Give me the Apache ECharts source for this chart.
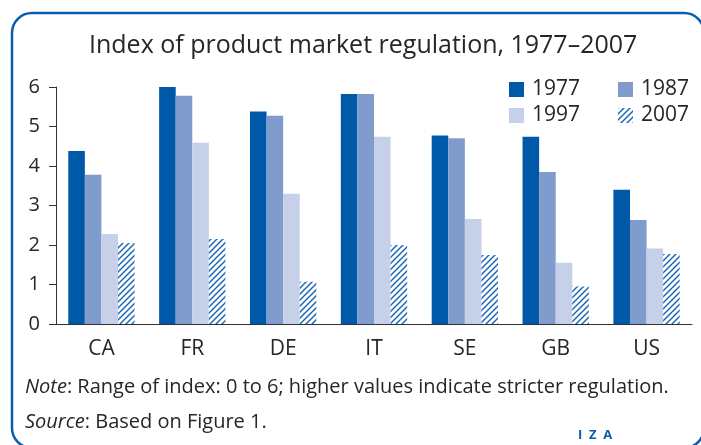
<!DOCTYPE html>
<html><head><meta charset="utf-8">
<script src="https://cdn.jsdelivr.net/npm/echarts@6/dist/echarts.min.js"></script>
<style>html,body{margin:0;padding:0;background:#fff}#c{width:701px;height:445px}</style>
</head><body><div id="c"></div>
<script>
var categories = ['CA','FR','DE','IT','SE','GB','US'];
var v1977 = [4.38, 6.0, 5.38, 5.82, 4.77, 4.74, 3.4];
var v1987 = [3.78, 5.78, 5.27, 5.82, 4.7, 3.85, 2.63];
var v1997 = [2.28, 4.59, 3.3, 4.74, 2.66, 1.55, 1.91];
var v2007 = [2.05, 2.15, 1.07, 2.0, 1.75, 0.95, 1.77];
var yTicks = [0,1,2,3,4,5,6];

var FONT = '"Open Sans", "Liberation Sans", Arial, sans-serif';
var TXT = '#262626';

// hatch pattern
var pc = document.createElement('canvas');
pc.width = 6; pc.height = 6;
var g = pc.getContext('2d');
g.fillStyle = '#fff'; g.fillRect(0,0,6,6);
g.strokeStyle = '#1b68b9'; g.lineWidth = 1.5;
g.beginPath();
g.moveTo(-1,7); g.lineTo(7,-1);
g.moveTo(-1,1); g.lineTo(1,-1);
g.moveTo(5,7); g.lineTo(7,5);
g.stroke();
var hatch = {image: pc, repeat: 'repeat'};

var chart = echarts.init(document.getElementById('c'), null, {renderer: 'canvas'});
function lg(name, left, top) {
  return {data: [name], left: left, top: top, padding: 0, itemWidth: 15, itemHeight: 15,
    icon: 'rect', selectedMode: false,
    textStyle: {fontFamily: FONT, fontSize: 21, color: TXT, padding: [0,0,0,3]}};
}
chart.setOption({
  animation: false,
  title: {text: 'Index of product market regulation, 1977\u20132007', left: 84, top: 28,
    textStyle: {fontFamily: FONT, fontSize: 25, fontWeight: 'normal', color: TXT}},
  legend: [lg('1977', 509, 79), lg('1987', 618, 79), lg('1997', 509, 105), lg('2007', 618, 105)],
  grid: {left: 56, right: 9, top: 87, bottom: 121},
  xAxis: {type: 'category', data: categories,
    axisLine: {lineStyle: {color: '#333', width: 1}},
    axisTick: {length: 8, lineStyle: {color: '#333'}},
    axisLabel: {fontFamily: FONT, fontSize: 21, color: TXT, margin: 15}},
  yAxis: {type: 'value', min: 0, max: 6, interval: 1,
    axisLine: {show: true, lineStyle: {color: '#333', width: 1}},
    axisTick: {show: true, length: 7, lineStyle: {color: '#333'}},
    splitLine: {show: false},
    axisLabel: {fontFamily: FONT, fontSize: 20, color: TXT, margin: 16,
      formatter: function(v){ return yTicks.indexOf(v) >= 0 ? String(v) : ''; }}},
  series: [
    {name: '1977', type: 'bar', data: v1977, barGap: '0%', barCategoryGap: '27%', itemStyle: {color: '#0058a9'}},
    {name: '1987', type: 'bar', data: v1987, itemStyle: {color: '#7f9ccd'}},
    {name: '1997', type: 'bar', data: v1997, itemStyle: {color: '#c6d0e9'}},
    {name: '2007', type: 'bar', data: v2007, itemStyle: {color: hatch}}
  ],
  graphic: [
    {type: 'rect', shape: {x: 12, y: 13, width: 692, height: 435, r: 20}, silent: true,
      style: {fill: 'none', stroke: '#0a5cb0', lineWidth: 2.5}},
    {type: 'text', left: 25, top: 377, style: {
      text: '{i|Note}: Range of index: 0 to 6; higher values indicate stricter regulation.',
      font: '20px ' + FONT, fill: TXT,
      rich: {i: {fontStyle: 'italic', fontFamily: FONT, fontSize: 20, fill: TXT}}}},
    {type: 'text', left: 25, top: 412, style: {
      text: '{i|Source}: Based on Figure 1.',
      font: '20px ' + FONT, fill: TXT,
      rich: {i: {fontStyle: 'italic', fontFamily: FONT, fontSize: 20, fill: TXT}}}},
    {type: 'text', left: 578, top: 429, style: {
      text: 'I  Z  A', font: 'bold 13px ' + FONT, fill: '#0a5cb0'}}
  ]
});
</script></body></html>
